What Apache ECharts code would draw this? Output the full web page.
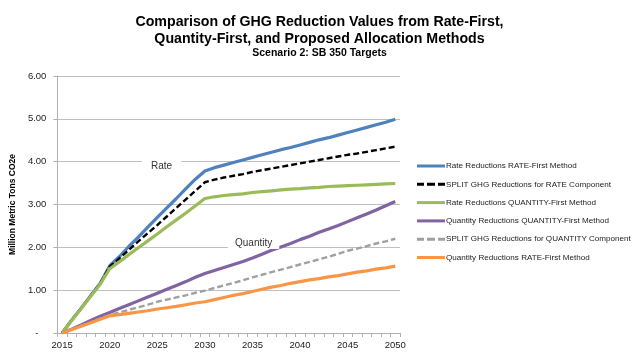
<!DOCTYPE html>
<html>
<head>
<meta charset="utf-8">
<script src="https://cdn.jsdelivr.net/npm/echarts@6/dist/echarts.min.js"></script>
<style>
html,body{margin:0;padding:0;background:#fff;}
#c{width:639px;height:357px;}
</style>
</head>
<body>
<div id="c"></div>
<script>
const years = [];
for (let y = 2015; y <= 2050; y++) years.push(String(y));

const seriesNames = [
  'Rate Reductions RATE-First Method',
  'SPLIT GHG Reductions for RATE Component',
  'Rate Reductions QUANTITY-First Method',
  'Quantity Reductions QUANTITY-First Method',
  'SPLIT GHG Reductions for QUANTITY Component',
  'Quantity Reductions RATE-First Method'
];

const rateRateFirst = [0, 0.30, 0.58, 0.87, 1.16, 1.57, 1.78, 2.02, 2.24, 2.47, 2.70, 2.92, 3.14, 3.37, 3.59, 3.78,
  3.86, 3.92, 3.98, 4.04, 4.10, 4.16, 4.22, 4.28, 4.33, 4.39, 4.45, 4.51, 4.56, 4.62, 4.68, 4.74, 4.80, 4.86, 4.92, 4.99];
const splitRate = [0, 0.30, 0.58, 0.87, 1.16, 1.55, 1.74, 1.94, 2.14, 2.33, 2.52, 2.72, 2.92, 3.12, 3.32, 3.52,
  3.58, 3.63, 3.67, 3.71, 3.76, 3.80, 3.84, 3.88, 3.92, 3.96, 4.00, 4.04, 4.08, 4.12, 4.16, 4.19, 4.23, 4.27, 4.31, 4.35];
const rateQuantityFirst = [0, 0.29, 0.57, 0.86, 1.14, 1.50, 1.66, 1.83, 1.99, 2.15, 2.31, 2.48, 2.64, 2.80, 2.97, 3.14,
  3.18, 3.21, 3.23, 3.25, 3.28, 3.30, 3.32, 3.34, 3.36, 3.37, 3.39, 3.40, 3.42, 3.43, 3.44, 3.45, 3.46, 3.47, 3.48, 3.49];
const quantityQuantityFirst = [0, 0.09, 0.19, 0.29, 0.39, 0.48, 0.57, 0.66, 0.75, 0.84, 0.93, 1.02, 1.11, 1.20, 1.30, 1.39,
  1.46, 1.53, 1.60, 1.67, 1.75, 1.84, 1.93, 2.01, 2.09, 2.18, 2.26, 2.35, 2.43, 2.51, 2.60, 2.69, 2.78, 2.87, 2.97, 3.07];
const splitQuantity = [0, 0.08, 0.17, 0.25, 0.34, 0.42, 0.48, 0.54, 0.60, 0.66, 0.73, 0.78, 0.83, 0.88, 0.94, 0.99,
  1.05, 1.11, 1.17, 1.23, 1.30, 1.36, 1.42, 1.48, 1.54, 1.60, 1.66, 1.72, 1.78, 1.85, 1.92, 1.97, 2.03, 2.09, 2.14, 2.20];
const quantityRateFirst = [0, 0.08, 0.16, 0.24, 0.32, 0.40, 0.43, 0.46, 0.49, 0.52, 0.56, 0.59, 0.62, 0.66, 0.70, 0.73,
  0.78, 0.83, 0.88, 0.92, 0.97, 1.02, 1.07, 1.11, 1.16, 1.20, 1.24, 1.27, 1.31, 1.34, 1.38, 1.42, 1.45, 1.49, 1.52, 1.56];

const colors = ['#4f81bd', '#000000', '#9bbb59', '#8064a2', '#a0a0a0', '#f79646'];
const dataSets = [rateRateFirst, splitRate, rateQuantityFirst, quantityQuantityFirst, splitQuantity, quantityRateFirst];
const dashed = [false, true, false, false, true, false];

const SOLID_ICON = 'path://M0,0h28v3h-28z';
const DASH_ICON = 'path://M0,0h7v3h-7z M10,0h8v3h-8z M21,0h7v3h-7z';

const FONT = 'Liberation Sans';
const chart = echarts.init(document.getElementById('c'), null, {renderer: 'canvas'});

chart.setOption({
  animation: false,
  backgroundColor: '#fff',
  title: [
    {
      text: 'Comparison of GHG Reduction Values from Rate-First,\nQuantity-First, and Proposed Allocation Methods',
      left: 'center', top: 9,
      textStyle: {fontFamily: FONT, fontWeight: 'bold', fontSize: 14.2, lineHeight: 17, color: '#000'}
    },
    {
      text: 'Scenario 2: SB 350 Targets',
      left: 'center', top: 43,
      textStyle: {fontFamily: FONT, fontWeight: 'bold', fontSize: 10.5, color: '#000'}
    }
  ],
  grid: {left: 56, right: 239, top: 76, bottom: 24, containLabel: false},
  legend: {
    orient: 'vertical',
    left: 412, top: 157,
    itemWidth: 28, itemHeight: 3, itemGap: 10.3,
    data: seriesNames.map((n, i) => ({
      name: n,
      icon: dashed[i] ? DASH_ICON : SOLID_ICON,
      itemStyle: {color: colors[i]}
    })),
    textStyle: {fontFamily: FONT, fontSize: 8.1, color: '#222', padding: [0, 0, 0, -4]},
    selectedMode: false
  },
  xAxis: {
    type: 'category',
    data: years,
    boundaryGap: true,
    axisLine: {show: true, lineStyle: {color: '#b0b0b0', width: 1}},
    axisTick: {show: true, interval: 0, length: 4, lineStyle: {color: '#b0b0b0'}},
    axisLabel: {interval: 4, margin: 7, fontFamily: FONT, fontSize: 9.5, color: '#222'},
    splitLine: {show: false}
  },
  yAxis: {
    type: 'value',
    min: 0, max: 6, interval: 1,
    name: 'Million Metric Tons CO2e',
    nameLocation: 'middle',
    nameGap: 37,
    nameTextStyle: {fontFamily: FONT, fontWeight: 'bold', fontSize: 8.5, color: '#000'},
    axisLine: {show: true, lineStyle: {color: '#b0b0b0', width: 1}},
    axisTick: {show: true, length: 4, lineStyle: {color: '#b0b0b0'}},
    axisLabel: {
      margin: 11, fontFamily: FONT, fontSize: 9.5, color: '#222',
      formatter: v => v === 0 ? '-   ' : v.toFixed(2)
    },
    splitLine: {show: true, lineStyle: {color: '#bfbfbf', width: 1}}
  },
  series: dataSets.map((d, i) => ({
    name: seriesNames[i],
    type: 'line',
    data: d,
    symbol: 'none',
    smooth: false,
    z: 2 + i,
    itemStyle: {color: colors[i]},
    lineStyle: {
      color: colors[i],
      width: dashed[i] ? 2.4 : 3.2,
      type: dashed[i] ? [6, 3] : 'solid'
    }
  })),
  graphic: [
    {
      type: 'text', left: 142, top: 160, z: 100,
      style: {text: 'Rate', fontFamily: FONT, fontSize: 10, fill: '#333',
        backgroundColor: '#fff', padding: [1, 9, 1, 9]}
    },
    {
      type: 'text', left: 228, top: 237, z: 100,
      style: {text: 'Quantity', fontFamily: FONT, fontSize: 10, fill: '#333',
        backgroundColor: '#fff', padding: [1, 7, 1, 7]}
    }
  ]
});
</script>
</body>
</html>
